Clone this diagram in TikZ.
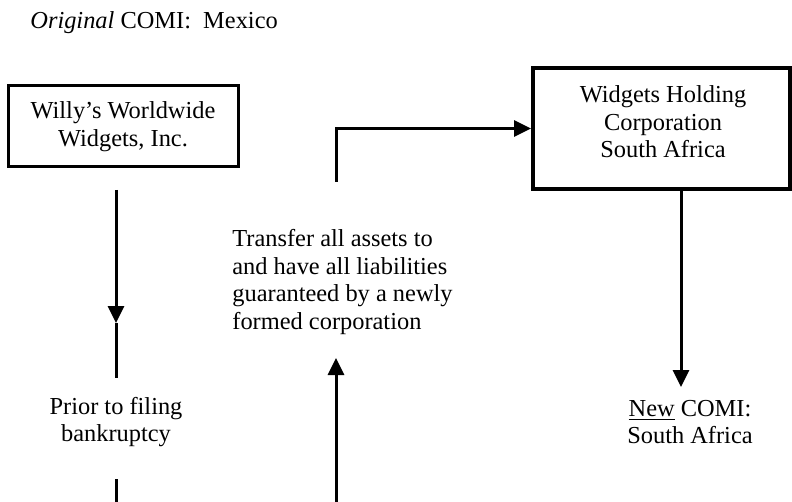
\documentclass[tikz,border=0pt]{standalone}
\usepackage{fontspec}
\setmainfont{Liberation Serif}
\usetikzlibrary{arrows.meta}
\begin{document}
\begin{tikzpicture}[x=0.5pt,y=-0.5pt,
  every node/.style={font=\fontsize{12.2pt}{13.8pt}\selectfont, inner sep=0pt},
  box/.style={draw, line width=1.5pt},
  conn/.style={line width=1.5pt},
  arr/.style={conn, -{Triangle[length=8.5pt,width=8pt]}}]
\useasboundingbox (0,0) rectangle (792,502);
\node[anchor=west] (title) at (30,23) {\textit{Original} COMI:\ \ Mexico};
\node[box, minimum width=115pt, minimum height=40.5pt, align=center] (willy) at (123,126.5)
  {Willy’s Worldwide\\Widgets, Inc.};
\node[box, line width=2pt, minimum width=128.5pt, minimum height=60.5pt] (holding) at (661.5,128.5) {};
\node[align=center] (holdingtext) at (663,122) {Widgets Holding\\Corporation\\South Africa};
\node[align=left, anchor=west] (transfer) at (232,282)
  {Transfer all assets to\\and have all liabilities\\guaranteed by a newly\\formed corporation};
\node[align=center] (prior) at (116,422) {Prior to filing\\bankruptcy};
\node[align=center] (newcomi) at (690,422) {\underline{New} COMI:\\South Africa};
% left chain
\coordinate (l1) at (116,190);
\coordinate (l2) at (116,323);
\coordinate (l3) at (116,378);
\coordinate (l4) at (116,479);
\coordinate (l5) at (116,502);
\draw[arr] (l1) -- (l2);
\draw[conn] (l2) -- (l3);
\draw[conn] (l4) -- (l5);
% middle
\coordinate (m1) at (336,182);
\coordinate (m2) at (336,358);
\coordinate (m3) at (336,502);
\draw[arr] (m1) |- (holding.west);
\draw[arr] (m3) -- (m2);
% right
\coordinate (r2) at (681,387);
\draw[arr] (holding.south -| r2) -- (r2);
\end{tikzpicture}
\end{document}
